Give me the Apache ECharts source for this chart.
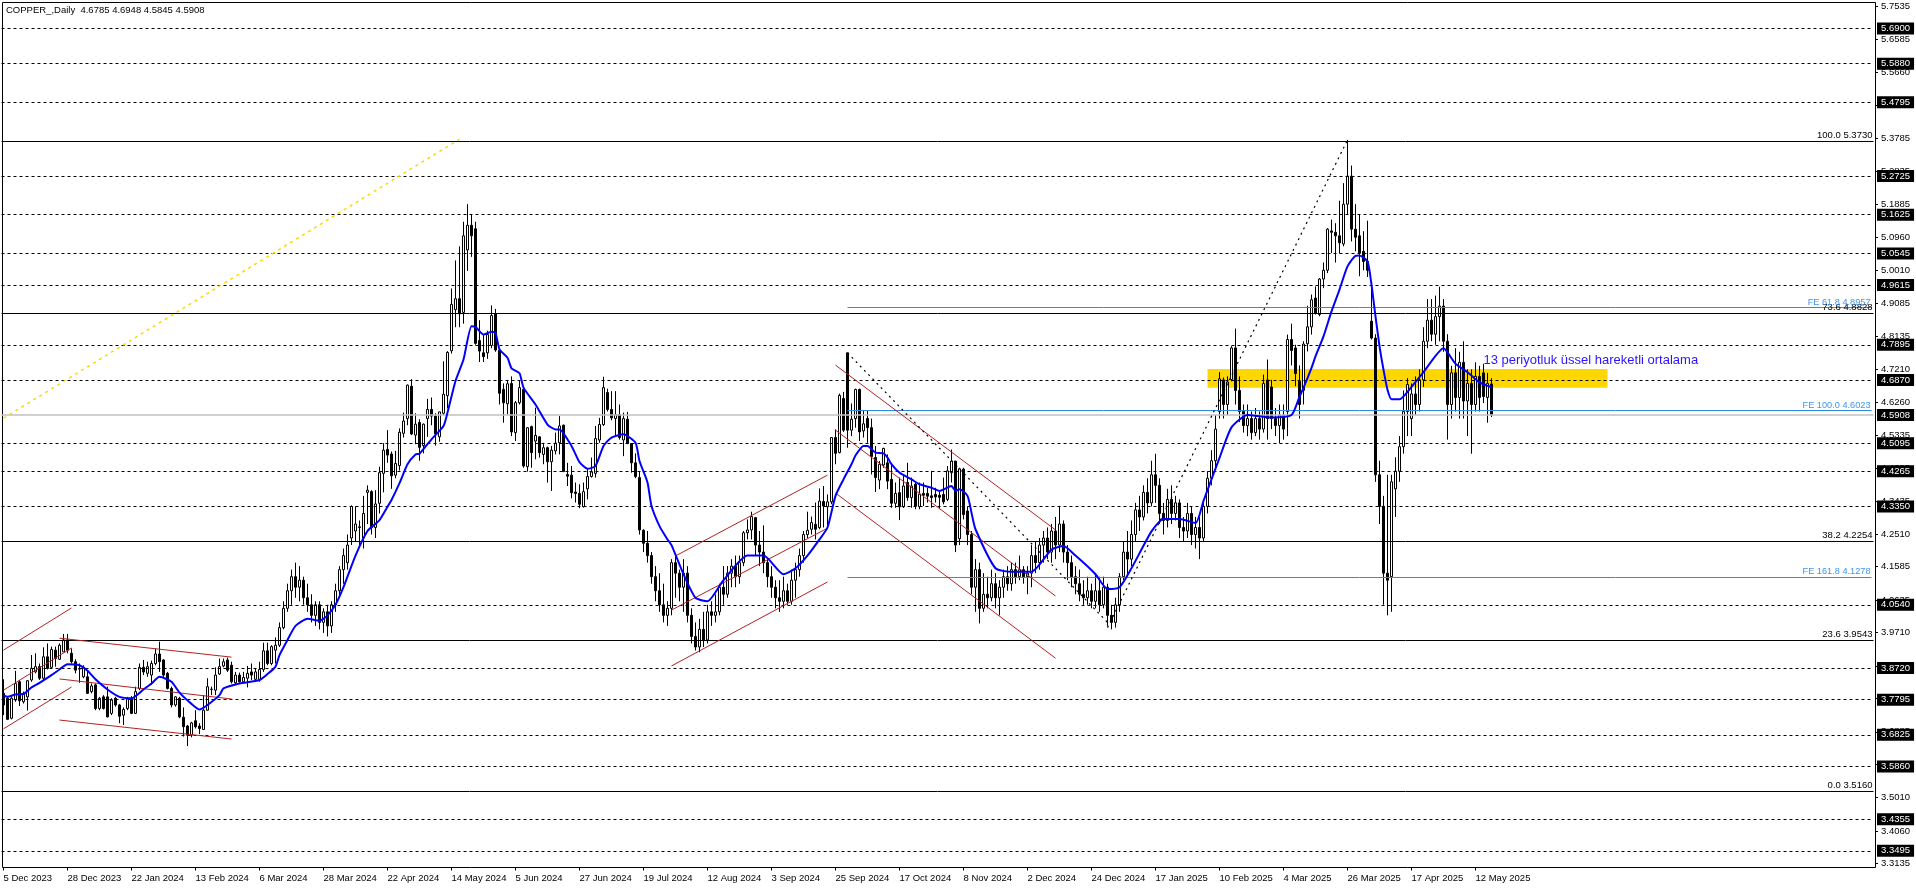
<!DOCTYPE html>
<html><head><meta charset="utf-8">
<style>html,body{margin:0;padding:0;background:#fff}#c{width:1916px;height:888px}</style>
<script src="https://cdn.jsdelivr.net/npm/echarts@6/dist/echarts.min.js"></script>
</head><body><div id="c"></div>
<script>
// date labels, one every 16 bars
const dateLabels=['5 Dec 2023','28 Dec 2023','22 Jan 2024','13 Feb 2024','6 Mar 2024','28 Mar 2024','22 Apr 2024','14 May 2024','5 Jun 2024','27 Jun 2024','19 Jul 2024','12 Aug 2024','3 Sep 2024','25 Sep 2024','17 Oct 2024','8 Nov 2024','2 Dec 2024','24 Dec 2024','17 Jan 2025','10 Feb 2025','4 Mar 2025','26 Mar 2025','17 Apr 2025','12 May 2025'];
// candles: [open, close, low, high]
const candlesA=[[3.798,3.765,3.736,3.838],[3.784,3.724,3.722,3.788],[3.727,3.784,3.724,3.793],[3.779,3.826,3.774,3.862],[3.831,3.777,3.762,3.836],[3.774,3.798,3.769,3.803],[3.788,3.834,3.749,3.836],[3.836,3.869,3.831,3.907],[3.859,3.874,3.855,3.912],[3.874,3.841,3.836,3.883],
[3.841,3.902,3.836,3.929],[3.902,3.869,3.866,3.94],[3.872,3.923,3.869,3.931],[3.921,3.897,3.874,3.931],[3.895,3.935,3.893,3.94],[3.916,3.95,3.916,3.967],[3.95,3.921,3.912,3.967],[3.912,3.888,3.883,3.926],[3.888,3.864,3.855,3.895],[3.869,3.867,3.828,3.883],
[3.845,3.872,3.841,3.878],[3.845,3.798,3.796,3.864],[3.803,3.819,3.798,3.826],[3.822,3.755,3.75,3.826],[3.755,3.784,3.75,3.788],[3.788,3.755,3.752,3.793],[3.788,3.731,3.73,3.817],[3.741,3.779,3.736,3.784],[3.784,3.765,3.76,3.788],[3.765,3.733,3.713,3.768],
[3.736,3.752,3.708,3.758],[3.755,3.784,3.75,3.788],[3.784,3.741,3.739,3.79],[3.741,3.803,3.739,3.817],[3.812,3.872,3.807,3.883],[3.872,3.859,3.85,3.893],[3.855,3.874,3.845,3.888],[3.85,3.883,3.822,3.891],[3.883,3.91,3.878,3.926],[3.91,3.888,3.859,3.945],
[3.893,3.85,3.845,3.895],[3.855,3.812,3.809,3.859],[3.812,3.765,3.758,3.817],[3.765,3.788,3.76,3.79],[3.784,3.731,3.727,3.788],[3.73,3.703,3.675,3.758],[3.705,3.679,3.648,3.708],[3.679,3.714,3.673,3.717],[3.72,3.703,3.698,3.75],[3.705,3.698,3.682,3.713],
[3.695,3.75,3.694,3.793],[3.75,3.817,3.749,3.841],[3.809,3.81,3.793,3.817],[3.807,3.85,3.793,3.872],[3.853,3.874,3.85,3.897],[3.876,3.888,3.872,3.897],[3.893,3.864,3.859,3.9],[3.878,3.831,3.826,3.888],[3.828,3.85,3.822,3.859],[3.85,3.831,3.828,3.857],
[3.831,3.843,3.828,3.859],[3.841,3.855,3.815,3.876],[3.859,3.85,3.836,3.883],[3.838,3.859,3.834,3.869],[3.838,3.866,3.831,3.888],[3.866,3.919,3.859,3.942],[3.919,3.883,3.878,3.942],[3.883,3.931,3.878,3.935],[3.921,3.935,3.883,3.957],[3.935,3.985,3.93,4.0]];
const candlesB=[[3.985,4.04,3.98,4.06],[4.04,4.09,4.03,4.11],[4.09,4.13,4.05,4.15],[4.13,4.10,4.07,4.17],[4.10,4.12,4.06,4.16],[4.12,4.07,4.05,4.13],[4.07,4.05,4.03,4.11],[4.05,4.02,4.00,4.08],[4.02,4.05,3.99,4.06],[4.05,4.00,3.98,4.06],
[4.00,4.03,3.97,4.04],[4.03,3.99,3.96,4.05],[3.99,4.05,3.97,4.06],[4.05,4.09,4.03,4.11],[4.09,4.15,4.07,4.16],[4.15,4.19,4.11,4.21],[4.17,4.22,4.15,4.25],[4.24,4.33,4.22,4.333],[4.26,4.28,4.23,4.33],[4.27,4.272,4.22,4.29],
[4.24,4.31,4.21,4.36],[4.37,4.376,4.28,4.39],[4.372,4.27,4.25,4.376],[4.27,4.337,4.24,4.376],[4.339,4.426,4.31,4.443],[4.424,4.49,4.37,4.51],[4.492,4.476,4.454,4.547],[4.479,4.417,4.38,4.486],[4.419,4.452,4.41,4.488],[4.446,4.541,4.432,4.552],
[4.538,4.573,4.526,4.597],[4.58,4.675,4.561,4.677],[4.672,4.536,4.533,4.692],[4.533,4.564,4.507,4.595],[4.569,4.498,4.46,4.578],[4.503,4.564,4.481,4.566],[4.58,4.606,4.528,4.636],[4.606,4.587,4.561,4.64],[4.587,4.536,4.503,4.595],[4.528,4.599,4.514,4.599],
[4.595,4.649,4.59,4.743],[4.645,4.768,4.609,4.772]];
const candlesC=[[4.773,4.905,4.765,4.95],[4.89,4.921,4.84,5.03],[4.921,4.878,4.84,5.07],[4.882,5.10,4.85,5.14],[5.06,5.13,5.00,5.19],[5.13,5.10,5.04,5.16],[5.12,4.794,4.79,5.14],[4.802,4.772,4.741,4.86],[4.767,4.756,4.741,4.819],[4.767,4.819,4.75,4.83],
[4.788,4.873,4.78,4.902],[4.878,4.775,4.77,4.892],[4.774,4.652,4.62,4.78],[4.663,4.625,4.568,4.68],[4.622,4.679,4.592,4.69],[4.68,4.542,4.53,4.70],[4.54,4.625,4.516,4.63],[4.625,4.668,4.62,4.687],[4.663,4.445,4.44,4.67],[4.443,4.554,4.429,4.556],
[4.557,4.483,4.44,4.56],[4.516,4.532,4.464,4.611],[4.528,4.483,4.469,4.53],[4.478,4.497,4.45,4.511],[4.497,4.457,4.398,4.50],[4.457,4.49,4.374,4.502],[4.488,4.51,4.478,4.54],[4.511,4.559,4.478,4.587],[4.561,4.429,4.429,4.563],[4.421,4.416,4.388,4.454],
[4.419,4.369,4.353,4.445],[4.371,4.367,4.341,4.398],[4.367,4.336,4.325,4.393],[4.329,4.372,4.327,4.398],[4.38,4.415,4.35,4.436],[4.415,4.428,4.412,4.469],[4.424,4.523,4.412,4.559],[4.519,4.563,4.511,4.582],[4.563,4.668,4.559,4.699],[4.654,4.606,4.60,4.665],
[4.606,4.582,4.575,4.658],[4.58,4.591,4.53,4.658],[4.591,4.526,4.52,4.62],[4.519,4.58,4.473,4.597],[4.578,4.509,4.507,4.599],[4.509,4.454,4.426,4.51],[4.454,4.415,4.41,4.481],[4.412,4.263,4.25,4.431]];
const candlesD=[[4.262,4.225,4.20,4.265],[4.225,4.19,4.17,4.26],[4.19,4.13,4.11,4.20],[4.13,4.09,4.06,4.16],[4.09,4.05,4.03,4.14],[4.05,4.02,4.00,4.11],[4.02,4.04,3.99,4.06],[4.04,4.17,4.02,4.18],[4.17,4.14,4.07,4.19],[4.14,4.10,4.06,4.15],
[4.10,4.14,4.03,4.18],[4.14,4.02,4.00,4.16],[4.02,3.96,3.94,4.04],[3.96,3.93,3.92,4.00],[3.93,3.98,3.915,4.01],[3.98,3.95,3.93,4.03],[3.95,4.03,3.94,4.05],[4.03,4.02,3.99,4.06],[4.02,4.03,4.00,4.08],[4.03,4.10,4.02,4.11],
[4.10,4.08,4.05,4.16],[4.08,4.14,4.07,4.16],[4.14,4.16,4.10,4.18],[4.16,4.13,4.10,4.19],[4.13,4.17,4.11,4.19],[4.17,4.255,4.16,4.26],[4.255,4.263,4.236,4.293],[4.263,4.301,4.236,4.315],[4.298,4.22,4.19,4.30],[4.22,4.20,4.16,4.26],
[4.20,4.17,4.14,4.276],[4.17,4.13,4.10,4.18],[4.13,4.10,4.07,4.16],[4.10,4.07,4.04,4.12],[4.07,4.06,4.03,4.12],[4.06,4.09,4.04,4.13],[4.09,4.06,4.05,4.11],[4.06,4.12,4.05,4.15],[4.12,4.15,4.07,4.17],[4.15,4.19,4.13,4.21],
[4.19,4.25,4.17,4.26],[4.25,4.262,4.24,4.315],[4.265,4.284,4.25,4.301],[4.279,4.265,4.236,4.341],[4.27,4.345,4.265,4.381],[4.344,4.331,4.27,4.388],[4.329,4.343,4.27,4.364],[4.343,4.526,4.336,4.527],[4.526,4.481,4.45,4.549],[4.483,4.646,4.481,4.651],
[4.637,4.547,4.542,4.656]];
const candlesE=[[4.767,4.547,4.497,4.767],[4.547,4.578,4.53,4.623],[4.58,4.663,4.554,4.665],[4.663,4.542,4.516,4.665],[4.545,4.565,4.526,4.604],[4.58,4.554,4.511,4.604],[4.554,4.472,4.421,4.58],[4.469,4.412,4.371,4.502],[4.405,4.45,4.379,4.459],[4.448,4.495,4.44,4.497],
[4.454,4.402,4.379,4.478],[4.407,4.339,4.326,4.454],[4.339,4.367,4.326,4.398],[4.369,4.329,4.291,4.412],[4.329,4.388,4.326,4.418],[4.398,4.355,4.346,4.454],[4.355,4.388,4.326,4.412],[4.393,4.331,4.322,4.398],[4.329,4.365,4.322,4.398],[4.367,4.362,4.331,4.398],
[4.367,4.359,4.341,4.383],[4.36,4.355,4.326,4.431],[4.364,4.357,4.341,4.383],[4.362,4.356,4.322,4.374],[4.364,4.343,4.336,4.412],[4.35,4.431,4.345,4.445],[4.426,4.459,4.398,4.492],[4.459,4.22,4.20,4.459],[4.238,4.437,4.22,4.44],[4.436,4.307,4.293,4.44],
[4.317,4.25,4.22,4.33],[4.25,4.10,4.08,4.26],[4.10,4.15,4.03,4.18],[4.15,4.04,3.997,4.17],[4.04,4.08,4.03,4.14],[4.08,4.07,4.04,4.13],[4.07,4.11,4.06,4.15],[4.11,4.07,4.04,4.14],[4.07,4.10,4.02,4.12],[4.10,4.13,4.07,4.15],
[4.13,4.11,4.09,4.16],[4.11,4.15,4.09,4.17],[4.15,4.13,4.11,4.17],[4.13,4.15,4.12,4.19],[4.15,4.13,4.11,4.16],[4.13,4.14,4.08,4.16],[4.14,4.19,4.10,4.22],[4.19,4.17,4.14,4.23],[4.17,4.22,4.15,4.24],[4.22,4.24,4.17,4.26],
[4.24,4.20,4.18,4.27],[4.20,4.26,4.17,4.28],[4.26,4.22,4.18,4.30],[4.22,4.28,4.20,4.33],[4.28,4.20,4.17,4.29],[4.20,4.17,4.12,4.22],[4.17,4.13,4.10,4.19],[4.13,4.11,4.08,4.16],[4.11,4.08,4.06,4.15],[4.08,4.07,4.05,4.12],
[4.07,4.09,4.05,4.13],[4.09,4.06,4.04,4.11],[4.06,4.09,4.04,4.14],[4.09,4.05,4.03,4.13],[4.05,4.10,4.04,4.13]];
const candlesF=[[4.10,4.02,3.99,4.11],[4.02,4.00,3.98,4.05],[4.00,4.05,3.985,4.07],[4.05,4.13,4.03,4.14],[4.13,4.20,4.12,4.23],[4.20,4.18,4.13,4.26],[4.18,4.25,4.16,4.29],[4.25,4.32,4.23,4.34],[4.32,4.30,4.26,4.36],[4.30,4.37,4.29,4.39],
[4.37,4.34,4.31,4.41],[4.34,4.42,4.33,4.46],[4.42,4.39,4.34,4.48],[4.39,4.31,4.28,4.41],[4.31,4.29,4.25,4.34],[4.29,4.35,4.27,4.38],[4.35,4.31,4.28,4.39],[4.31,4.34,4.29,4.36],[4.34,4.27,4.24,4.35],[4.27,4.26,4.23,4.30],
[4.26,4.31,4.24,4.34],[4.31,4.25,4.22,4.33],[4.25,4.27,4.21,4.30],[4.27,4.24,4.18,4.30],[4.24,4.33,4.23,4.35],[4.33,4.41,4.31,4.43],[4.41,4.46,4.39,4.49],[4.46,4.55,4.44,4.59],[4.60,4.693,4.58,4.712],[4.69,4.62,4.58,4.697],
[4.62,4.684,4.59,4.70],[4.691,4.781,4.686,4.786],[4.781,4.66,4.62,4.836],[4.66,4.60,4.57,4.70],[4.60,4.56,4.54,4.62],[4.56,4.58,4.53,4.62],[4.58,4.54,4.52,4.60],[4.54,4.58,4.53,4.61],[4.58,4.55,4.52,4.60],[4.55,4.68,4.54,4.705],
[4.69,4.58,4.52,4.748],[4.67,4.58,4.55,4.69],[4.58,4.56,4.53,4.61],[4.56,4.59,4.51,4.62],[4.59,4.55,4.52,4.62],[4.60,4.805,4.53,4.819],[4.805,4.774,4.731,4.85],[4.781,4.708,4.672,4.79],[4.686,4.62,4.58,4.731],[4.66,4.792,4.62,4.80],
[4.793,4.841,4.771,4.901],[4.841,4.918,4.819,4.933],[4.923,4.88,4.876,4.956],[4.876,4.977,4.871,4.98],[4.977,5.002,4.951,5.024],[5.002,5.119,4.994,5.122],[5.114,5.11,5.051,5.146],[5.11,5.10,5.024,5.136],[5.10,5.08,5.05,5.20],[5.077,5.19,5.07,5.25],
[5.19,5.27,5.16,5.373],[5.27,5.119,5.084,5.30],[5.119,5.096,5.056,5.19],[5.10,5.051,4.985,5.16],[5.056,5.027,5.002,5.113],[5.027,5.002,4.983,5.143],[4.857,4.809,4.805,4.956]];
const candlesG=[[4.809,4.42,4.40,4.82],[4.42,4.33,4.28,4.46],[4.33,4.14,4.05,4.36],[4.14,4.12,4.02,4.42],[4.13,4.40,4.03,4.42],[4.38,4.43,4.30,4.47],[4.43,4.50,4.40,4.53],[4.50,4.60,4.48,4.66],[4.60,4.677,4.53,4.695],[4.58,4.65,4.53,4.68],
[4.65,4.62,4.59,4.70],[4.62,4.69,4.60,4.72],[4.69,4.80,4.67,4.84],[4.80,4.86,4.78,4.92],[4.86,4.82,4.80,4.92],[4.82,4.87,4.79,4.93],[4.87,4.90,4.80,4.955],[4.90,4.80,4.77,4.92],[4.80,4.62,4.52,4.82],[4.62,4.71,4.58,4.73],
[4.71,4.64,4.60,4.78],[4.64,4.74,4.58,4.77],[4.74,4.63,4.58,4.80],[4.63,4.68,4.53,4.72],[4.68,4.62,4.48,4.72],[4.62,4.70,4.60,4.74],[4.70,4.64,4.60,4.73],[4.71,4.643,4.624,4.736],[4.64,4.68,4.568,4.71],[4.6785,4.5908,4.5845,4.6948]];
// 13-period EMA, [bar index, value]
const emaPoints=[[0,3.793],[1,3.788],[3,3.795],[5,3.796],[7,3.815],[9,3.828],[12,3.85],[14,3.866],[16,3.881],[19,3.878],[21,3.862],[23,3.838],[26,3.809],[29,3.788],[32,3.784],[35,3.809],[37,3.826],[39,3.845],[42,3.831],[44,3.80],[47,3.768],[49,3.752],[51,3.765],[54,3.793],[55,3.812],[59,3.826],[64,3.836],[66,3.853],[68,3.874],[69,3.907],[71,3.95],[73,3.99],[76,4.01],[79,4.005],[81,4.02],[83,4.05],[85,4.10],[88,4.19],[91,4.26],[94,4.291],[96,4.329],[97,4.348],[99,4.396],[101,4.45],[103,4.478],[104,4.48],[107,4.521],[110,4.559],[111,4.597],[113,4.687],[115,4.748],[117,4.843],[118,4.841],[120,4.819],[122,4.827],[123,4.824],[124,4.777],[126,4.753],[127,4.723],[129,4.709],[130,4.668],[133,4.62],[136,4.563],[138,4.549],[139,4.549],[142,4.502],[144,4.456],[146,4.437],[148,4.445],[150,4.502],[152,4.526],[155,4.535],[158,4.511],[159,4.459],[161,4.398],[162,4.331],[164,4.274],[166,4.236],[167,4.22],[170,4.137],[173,4.07],[176,4.06],[180,4.12],[186,4.19],[190,4.19],[195,4.137],[198,4.154],[201,4.19],[204,4.236],[206,4.27],[208,4.36],[210,4.407],[212,4.45],[213,4.475],[215,4.502],[216,4.502],[218,4.483],[220,4.481],[221,4.469],[222,4.45],[224,4.426],[227,4.407],[229,4.393],[232,4.383],[234,4.374],[237,4.388],[238,4.374],[239,4.379],[241,4.36],[242,4.312],[243,4.265],[248,4.154],[252,4.144],[257,4.144],[262,4.207],[265,4.217],[268,4.19],[273,4.137],[276,4.095],[279,4.10],[282,4.154],[287,4.259],[290,4.294],[294,4.294],[298,4.283],[300,4.346],[304,4.468],[307,4.555],[311,4.59],[317,4.583],[322,4.59],[324,4.642],[325,4.667],[327,4.724],[328,4.757],[330,4.814],[332,4.885],[334,4.947],[336,5.013],[338,5.043],[339,5.044],[341,5.027],[342,4.961],[343,4.871],[344,4.786],[345,4.719],[346,4.662],[347,4.635],[349,4.635],[352,4.67],[355,4.712],[360,4.78],[363,4.736],[366,4.712],[369,4.683],[372,4.669]];
// horizontal levels
const dashedLevels=[5.69,5.588,5.4795,5.2725,5.1625,5.0545,4.9615,4.7895,4.687,4.5095,4.4265,4.335,4.054,3.872,3.7795,3.6825,3.586,3.4355,3.3495];
const fiboLevels=[['100.0',5.373],['73.6',4.8828],['38.2',4.2254],['23.6',3.9543],['0.0',3.516]];
const feLevels=[['61.8',4.8957],['100.0',4.6023],['161.8',4.1278]];
const lastPrice=4.5908;
const axisTicks=[5.7535,5.6585,5.566,5.471,5.3785,5.2835,5.1885,5.096,5.001,4.9085,4.8135,4.721,4.626,4.5335,4.4385,4.3435,4.251,4.1585,4.0635,3.971,3.876,3.7835,3.6885,3.596,3.501,3.406,3.3135];
// drawn objects, [[bar,price],[bar,price]]
const redLines=[[[0,3.921],[17,4.041]],[[0,3.807],[17,3.927]],[[0,3.697],[17,3.816]],[[14,3.955],[57,3.901]],[[14,3.839],[57,3.782]],[[14,3.722],[57,3.668]],[[168,4.189],[206,4.419]],[[167,4.035],[206,4.268]],[[167,3.876],[206,4.115]],[[208,4.732],[263,4.263]],[[208,4.547],[263,4.075]],[[208,4.368],[263,3.898]]];
const blackDotted=[[[276,3.985],[336,5.373]],[[211,4.767],[276,4.00]]];
const goldDotted=[[[0,4.581],[114,5.375]]];
const goldZone=[[301,4.7207],[401,4.6675]];
const emaNote=['13 periyotluk üssel hareketli ortalama',370,4.746];
const header='COPPER_,Daily  4.6785 4.6948 4.5845 4.5908';
const slotCount=468;

const FONT='"Liberation Sans",Arial,sans-serif';
const candles=[...candlesA,...candlesB,...candlesC,...candlesD,...candlesE,...candlesF,...candlesG];
const cats=Array.from({length:slotCount},(_,i)=>(i%16===0&&dateLabels[i/16])?dateLabels[i/16]:'');
const pair=(l)=>[{coord:l[0]},{coord:l[1]}];
const lastIdx=slotCount-1;
const mkBoxLabel={show:true,position:'end',distance:3.5,color:'#fff',backgroundColor:'#000',fontFamily:FONT,fontSize:9.5,padding:[1,4,1,4],formatter:p=>p.name};
const hostBase={type:'line',data:[],silent:true,showSymbol:false,animation:false};
const chart=echarts.init(document.getElementById('c'),null,{renderer:'canvas'});
chart.setOption({
 animation:false,backgroundColor:'#fff',
 title:{text:header,left:6,top:5,padding:0,textStyle:{fontFamily:FONT,fontSize:9.5,fontWeight:'normal',color:'#000'}},
 graphic:[{type:'rect',z:-1,silent:true,shape:{x:2.5,y:2.5,width:1873,height:865},style:{fill:'#fff',stroke:'#000',lineWidth:1}}],
 grid:{left:1.5,top:2.5,width:1872,height:865,show:false,containLabel:false},
 xAxis:{type:'category',data:cats,boundaryGap:true,
  axisLine:{show:false},
  axisTick:{show:true,alignWithLabel:true,length:3,lineStyle:{color:'#000'},interval:(i)=>i%16===0&&i<=368},
  axisLabel:{show:true,interval:(i)=>i%16===0&&i<=368,align:'left',margin:6,color:'#000',fontFamily:FONT,fontSize:9.5},
  splitLine:{show:false}},
 yAxis:{type:'value',position:'right',offset:1.5,min:3.3024,max:5.764,scale:true,
  axisLine:{show:false},
  axisTick:{show:true,length:3,lineStyle:{color:'#000'},customValues:axisTicks},
  axisLabel:{show:true,margin:6,color:'#000',fontFamily:FONT,fontSize:9.5,customValues:axisTicks,formatter:v=>v.toFixed(4),hideOverlap:false},
  splitLine:{show:false}},
 series:[
  {...hostBase,name:'zone',z:1,markArea:{silent:true,itemStyle:{color:'#FFD700'},data:[[{coord:goldZone[0]},{coord:goldZone[1]}]]}},
  {...hostBase,name:'levels',z:2,markLine:{silent:true,symbol:'none',animation:false,
    lineStyle:{color:'#000',type:[3,3],width:1},label:mkBoxLabel,
    data:dashedLevels.map(v=>({yAxis:v,name:v.toFixed(4)}))}},
  {...hostBase,name:'last',z:2,markLine:{silent:true,symbol:'none',animation:false,
    lineStyle:{color:'#c0c0c0',type:'solid',width:1.5},label:mkBoxLabel,data:[{yAxis:lastPrice,name:lastPrice.toFixed(4)}]}},
  {...hostBase,name:'fibo',z:2,markLine:{silent:true,symbol:'none',animation:false,
    lineStyle:{color:'#000',type:'solid',width:1},
    label:{show:true,position:'insideEndTop',distance:1,color:'#000',fontFamily:FONT,fontSize:9.5,formatter:p=>p.name},
    data:fiboLevels.map(f=>({yAxis:f[1],name:f[0]+' '+f[1].toFixed(4)}))}},
  {...hostBase,name:'fe',z:2,markLine:{silent:true,symbol:'none',animation:false,
    lineStyle:{color:'#2E8BE6',type:'solid',width:1},
    label:{show:true,position:'insideEndTop',distance:1,color:'#3D94EE',fontFamily:FONT,fontSize:9.2,formatter:p=>p.name},
    data:feLevels.map(f=>[{coord:[211,f[1]],name:'FE '+f[0]+' '+f[1].toFixed(4)},{coord:[lastIdx,f[1]]}])}},
  {type:'candlestick',name:'COPPER',z:3,data:candles,barWidth:3,animation:false,silent:true,clip:true,
   itemStyle:{color:'#fff',color0:'#000',borderColor:'#000',borderColor0:'#000',borderWidth:1}},
  {...hostBase,name:'red',z:4,markLine:{silent:true,symbol:'none',animation:false,label:{show:false},
    lineStyle:{color:'#B22222',type:'solid',width:1},data:redLines.map(pair)}},
  {...hostBase,name:'dotted',z:4,markLine:{silent:true,symbol:'none',animation:false,label:{show:false},
    lineStyle:{color:'#000',type:[2,4],width:1.2},data:blackDotted.map(pair)}},
  {...hostBase,name:'gold',z:4,markLine:{silent:true,symbol:'none',animation:false,label:{show:false},
    lineStyle:{color:'#FFD700',type:[3,4],width:1.5},data:goldDotted.map(pair)}},
  {type:'line',name:'EMA 13',z:5,data:emaPoints,smooth:0.2,showSymbol:false,symbol:'none',silent:true,animation:false,
   lineStyle:{color:'#0000FF',width:2},
   markPoint:{silent:true,symbol:'circle',symbolSize:0,animation:false,
    label:{show:true,position:'right',distance:0,color:'#2A14FF',fontFamily:FONT,fontSize:13,formatter:p=>p.name},
    data:[{name:emaNote[0],coord:[emaNote[1],emaNote[2]]}]}}
 ]
});
</script></body></html>
